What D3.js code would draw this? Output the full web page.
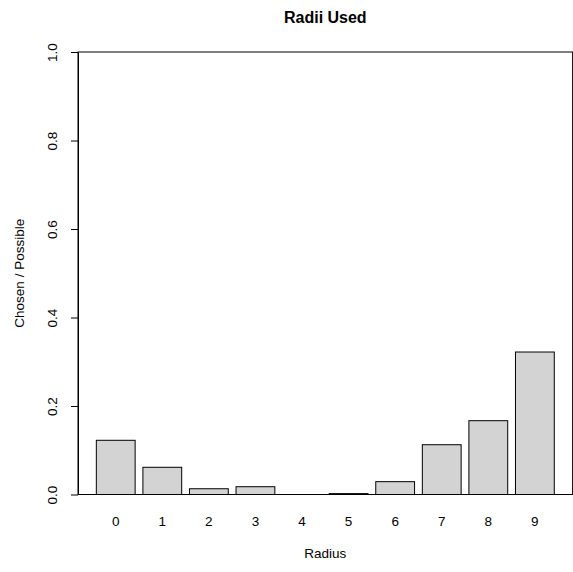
<!DOCTYPE html>
<html>
<head>
<meta charset="utf-8">
<script src="https://cdn.jsdelivr.net/npm/d3@7"></script>
<style>
  html, body { margin: 0; padding: 0; background: #fff; }
  svg { display: block; font-family: "Liberation Sans", Arial, Helvetica, sans-serif; }
</style>
</head>
<body>
<svg id="chart" width="573" height="572"></svg>
<script>
// Data
const categories = ["0", "1", "2", "3", "4", "5", "6", "7", "8", "9"];
const values = [0.1225, 0.0615, 0.013, 0.0176, 0, 0.002, 0.029, 0.1125, 0.1668, 0.322];
const yTicks = [0, 0.2, 0.4, 0.6, 0.8, 1.0];
const chartTitle = "Radii Used";
const xTitle = "Radius";
const yTitle = "Chosen / Possible";

(function () {
const svg = d3.select("#chart");
const pLeft = 78, pRight = 572.6, pTop = 52, pBottom = 494.5;
const fs = 13.5;

// R barplot geometry: width 1, space 0.2, xlim extended 4%
const barW = 1, space = 0.2;
const n = categories.length;
const xMax = n * (barW + space);
const ext = (xMax - space) * 0.04;
const x = d3.scaleLinear().domain([space - ext, xMax + ext]).range([pLeft, pRight]);
const y = d3.scaleLinear().domain([0, 1]).range([pBottom, pTop]);

// bars
svg.append("g").selectAll("rect").data(values).join("rect")
  .attr("x", (d, i) => x(space + i * (barW + space)))
  .attr("width", (d, i) => x(space + i * (barW + space) + barW) - x(space + i * (barW + space)))
  .attr("y", d => y(d))
  .attr("height", d => y(0) - y(d))
  .attr("fill", "#d3d3d3")
  .attr("stroke", "#000")
  .attr("stroke-width", 1);

// box
svg.append("rect")
  .attr("x", pLeft).attr("y", pTop)
  .attr("width", pRight - pLeft).attr("height", pBottom - pTop)
  .attr("fill", "none").attr("stroke", "#000").attr("stroke-width", 1);

// y axis
const yAxis = svg.append("g").attr("transform", `translate(${pLeft},0)`)
  .call(d3.axisLeft(y).tickValues(yTicks).tickFormat(d3.format(".1f")).tickSize(7).tickSizeOuter(0));
yAxis.select(".domain").attr("stroke", "#000");
yAxis.selectAll(".tick line").attr("stroke", "#000");
yAxis.selectAll(".tick text")
  .attr("x", 0).attr("dy", null)
  .attr("transform", "translate(-26,0) rotate(-90)")
  .attr("text-anchor", "middle")
  .attr("dominant-baseline", "central")
  .attr("font-size", fs)
  .attr("font-family", "Liberation Sans, Arial, sans-serif")
  .attr("fill", "#000");

// x labels
svg.append("g").selectAll("text").data(categories).join("text")
  .attr("x", (d, i) => x(space + i * (barW + space) + barW / 2))
  .attr("y", 521)
  .attr("text-anchor", "middle")
  .attr("dominant-baseline", "central")
  .attr("font-size", fs)
  .text(d => d);

// titles
svg.append("text")
  .attr("x", (pLeft + pRight) / 2).attr("y", 17)
  .attr("text-anchor", "middle").attr("dominant-baseline", "central")
  .attr("font-size", 16).attr("font-weight", "bold")
  .text(chartTitle);

svg.append("text")
  .attr("x", (pLeft + pRight) / 2).attr("y", 553)
  .attr("text-anchor", "middle").attr("dominant-baseline", "central")
  .attr("font-size", fs)
  .text(xTitle);

svg.append("text")
  .attr("transform", `translate(19,${(pTop + pBottom) / 2}) rotate(-90)`)
  .attr("text-anchor", "middle").attr("dominant-baseline", "central")
  .attr("font-size", fs)
  .text(yTitle);
})();
</script>
</body>
</html>
